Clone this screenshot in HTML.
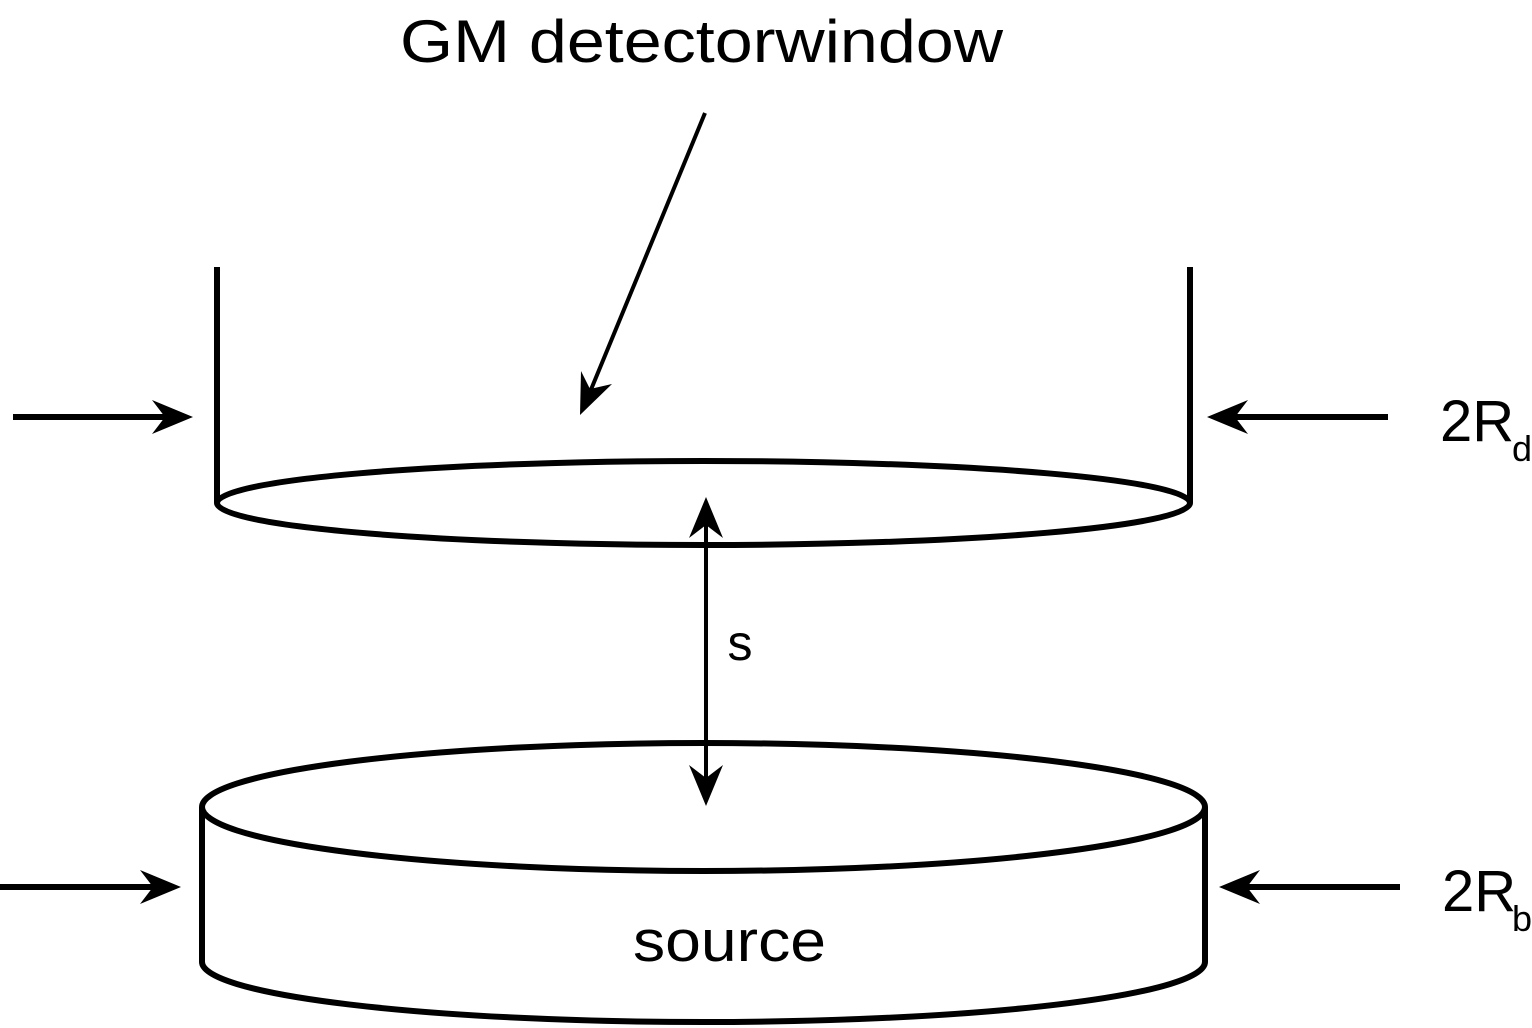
<!DOCTYPE html>
<html><head><meta charset="utf-8"><style>html,body{margin:0;padding:0;background:#fff}svg{display:block}</style></head>
<body>
<svg width="1532" height="1028" viewBox="0 0 1532 1028" xmlns="http://www.w3.org/2000/svg" font-family="'Liberation Sans', sans-serif">
<g stroke="#000" stroke-width="6" fill="none">
<line x1="217" y1="267" x2="217" y2="503"/>
<line x1="1190" y1="267" x2="1190" y2="503"/>
<ellipse cx="703.5" cy="503" rx="486.5" ry="42"/>
<ellipse cx="703.5" cy="807" rx="501.5" ry="64"/>
<line x1="202" y1="807" x2="202" y2="962"/>
<line x1="1205" y1="807" x2="1205" y2="962"/>
<path d="M202,962 A501.5 60 0 0 0 1205,962"/>
</g>
<g fill="#000">
<line x1="13" y1="417" x2="170" y2="417" stroke="#000" stroke-width="6"/>
<path d="M193,417 L152,400 L165,417 L152,434 Z"/>
<line x1="1388" y1="417" x2="1230" y2="417" stroke="#000" stroke-width="6"/>
<path d="M1207,417 L1248,400 L1235,417 L1248,434 Z"/>
<line x1="0" y1="887" x2="158" y2="887" stroke="#000" stroke-width="6"/>
<path d="M181,887 L140,870 L153,887 L140,904 Z"/>
<line x1="1400" y1="887" x2="1242" y2="887" stroke="#000" stroke-width="6"/>
<path d="M1219,887 L1260,870 L1247,887 L1260,904 Z"/>
<line x1="706" y1="520" x2="706" y2="782" stroke="#000" stroke-width="4"/>
<path d="M706,497 L689,538 L706,525 L723,538 Z"/>
<path d="M706,806 L689,765 L706,778 L723,765 Z"/>
<line x1="705" y1="113" x2="590" y2="392" stroke="#000" stroke-width="4"/>
<path d="M580,415 L581,371 L590,389 L612,384 Z"/>
</g>
<g fill="#000">
<text x="400" y="62" font-size="60" textLength="603" lengthAdjust="spacingAndGlyphs">GM detectorwindow</text>
<text x="740" y="660" font-size="50" text-anchor="middle">s</text>
<text x="633" y="961" font-size="58" textLength="193" lengthAdjust="spacingAndGlyphs">source</text>
<text x="1440" y="441" font-size="58">2R</text>
<text x="1512" y="461" font-size="36">d</text>
<text x="1442" y="911" font-size="58">2R</text>
<text x="1512" y="931" font-size="36">b</text>
</g>
</svg>
</body></html>
